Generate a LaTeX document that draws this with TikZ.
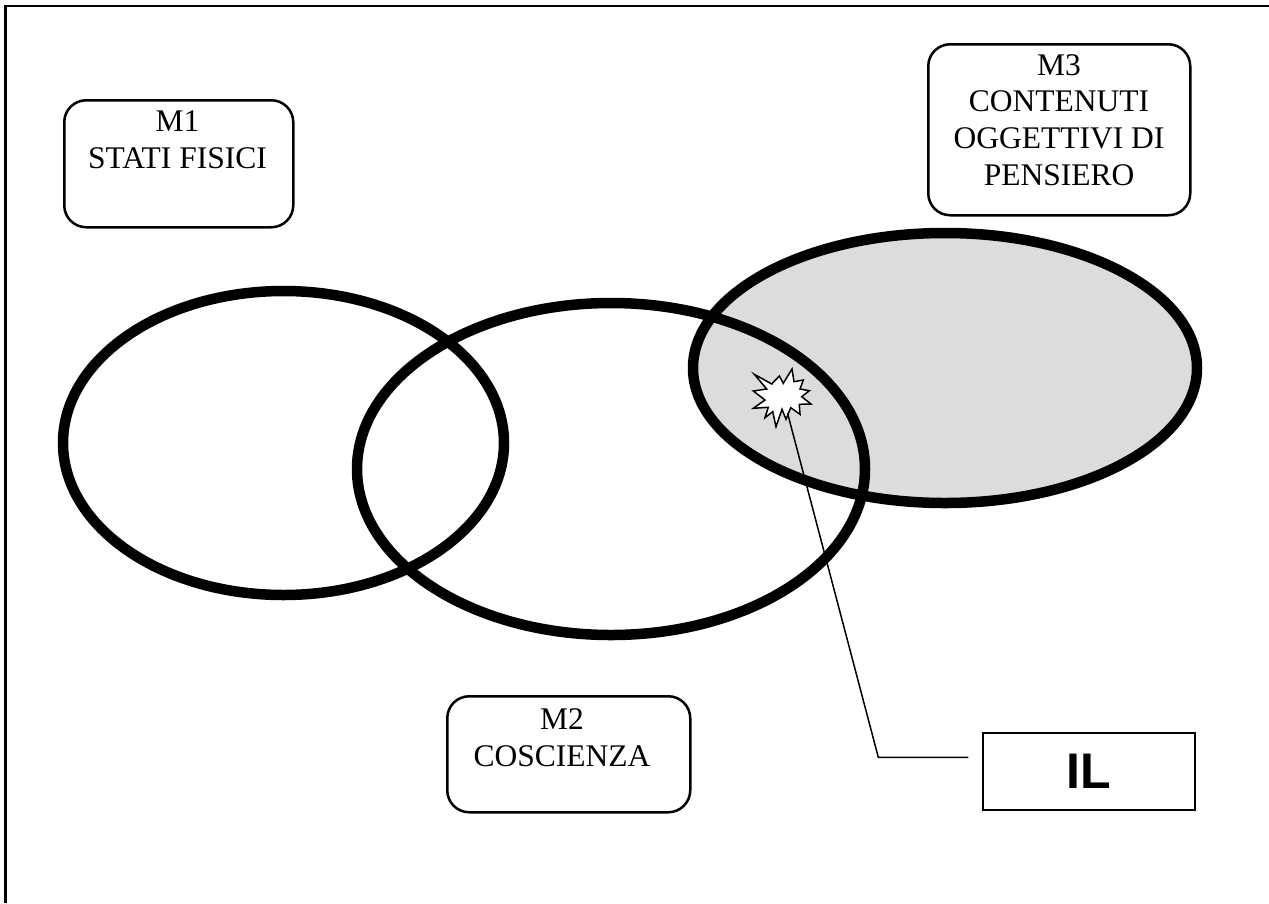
\documentclass[tikz,border=0pt]{standalone}
\usepackage{fontspec}
\setmainfont{Liberation Serif}
\newfontfamily\ilfont{Liberation Sans}
\definecolor{lgray}{HTML}{DCDCDC}
\begin{document}
\begin{tikzpicture}[x=1pt,y=-1pt,
  ring/.style={line width=10.5pt},
  mbox/.style={draw, line width=2.5pt, rounded corners=22pt, inner sep=0pt},
  mtext/.style={font=\fontsize{31.5}{36.6}\selectfont, align=center, inner sep=0pt, anchor=base},
  ilbox/.style={draw, line width=2.5pt, inner sep=0pt, font=\ilfont\bfseries\fontsize{50}{60}\selectfont},
  conn/.style={line width=1.5pt},
  burst/.style={draw, fill=white, line width=1.5pt, line join=miter},
  frame/.style={line width=2.7pt, line join=miter}]
\useasboundingbox (0,0) rectangle (1269,903);
% frame
\draw[frame] (5.3,903) -- (5.3,6) -- (1269,6);
% sets
\fill[lgray] (945,368) ellipse [x radius=252pt, y radius=135pt];
\draw[ring] (283.5,443) ellipse [x radius=220.5pt, y radius=152pt];
\draw[ring] (611,469) ellipse [x radius=254pt, y radius=166pt];
\draw[ring] (945,368) ellipse [x radius=252pt, y radius=135pt];
% boxes
\node[mbox, minimum width=229pt, minimum height=127pt, anchor=north west] (m1) at (63,99) {};
\node[mtext] (t1) at (177.5,168.3) {M1\\STATI FISICI};
\node[mbox, minimum width=243pt, minimum height=116pt, anchor=north west] (m2) at (446,695) {};
\node[mtext] (t2) at (562,766) {M2\\COSCIENZA};
\node[mbox, minimum width=262pt, minimum height=171pt, anchor=north west] (m3) at (927,43) {};
\node[mtext] (t3) at (1059,185) {M3\\CONTENUTI\\OGGETTIVI DI\\PENSIERO};
\node[ilbox, minimum width=212pt, minimum height=77pt] (il) at (1089,771.5) {IL};
% starburst
\draw[burst] (754.3,374.3) -- (771.7,384) -- (779.3,376) -- (783.3,383.3) -- (792,369)
  -- (794,381.7) -- (803.3,380) -- (800,389) -- (809.3,390.7) -- (801.7,396.7)
  -- (811,404) -- (799.3,404.3) -- (800,414.3) -- (790.7,407.7) -- (786,419.3)
  -- (782,409.3) -- (776,426.7) -- (772.7,411.7) -- (765,417.7) -- (768.3,407.3)
  -- (753.3,408.3) -- (765,400) -- (753.3,391) -- (766.7,389) -- cycle;
\coordinate (sb) at (787.5,413);
\coordinate (bend) at (878.3,757.3);
\coordinate (lend) at (968.3,757.3);
\draw[conn] (sb) -- (bend) -- (lend);
\end{tikzpicture}
\end{document}
